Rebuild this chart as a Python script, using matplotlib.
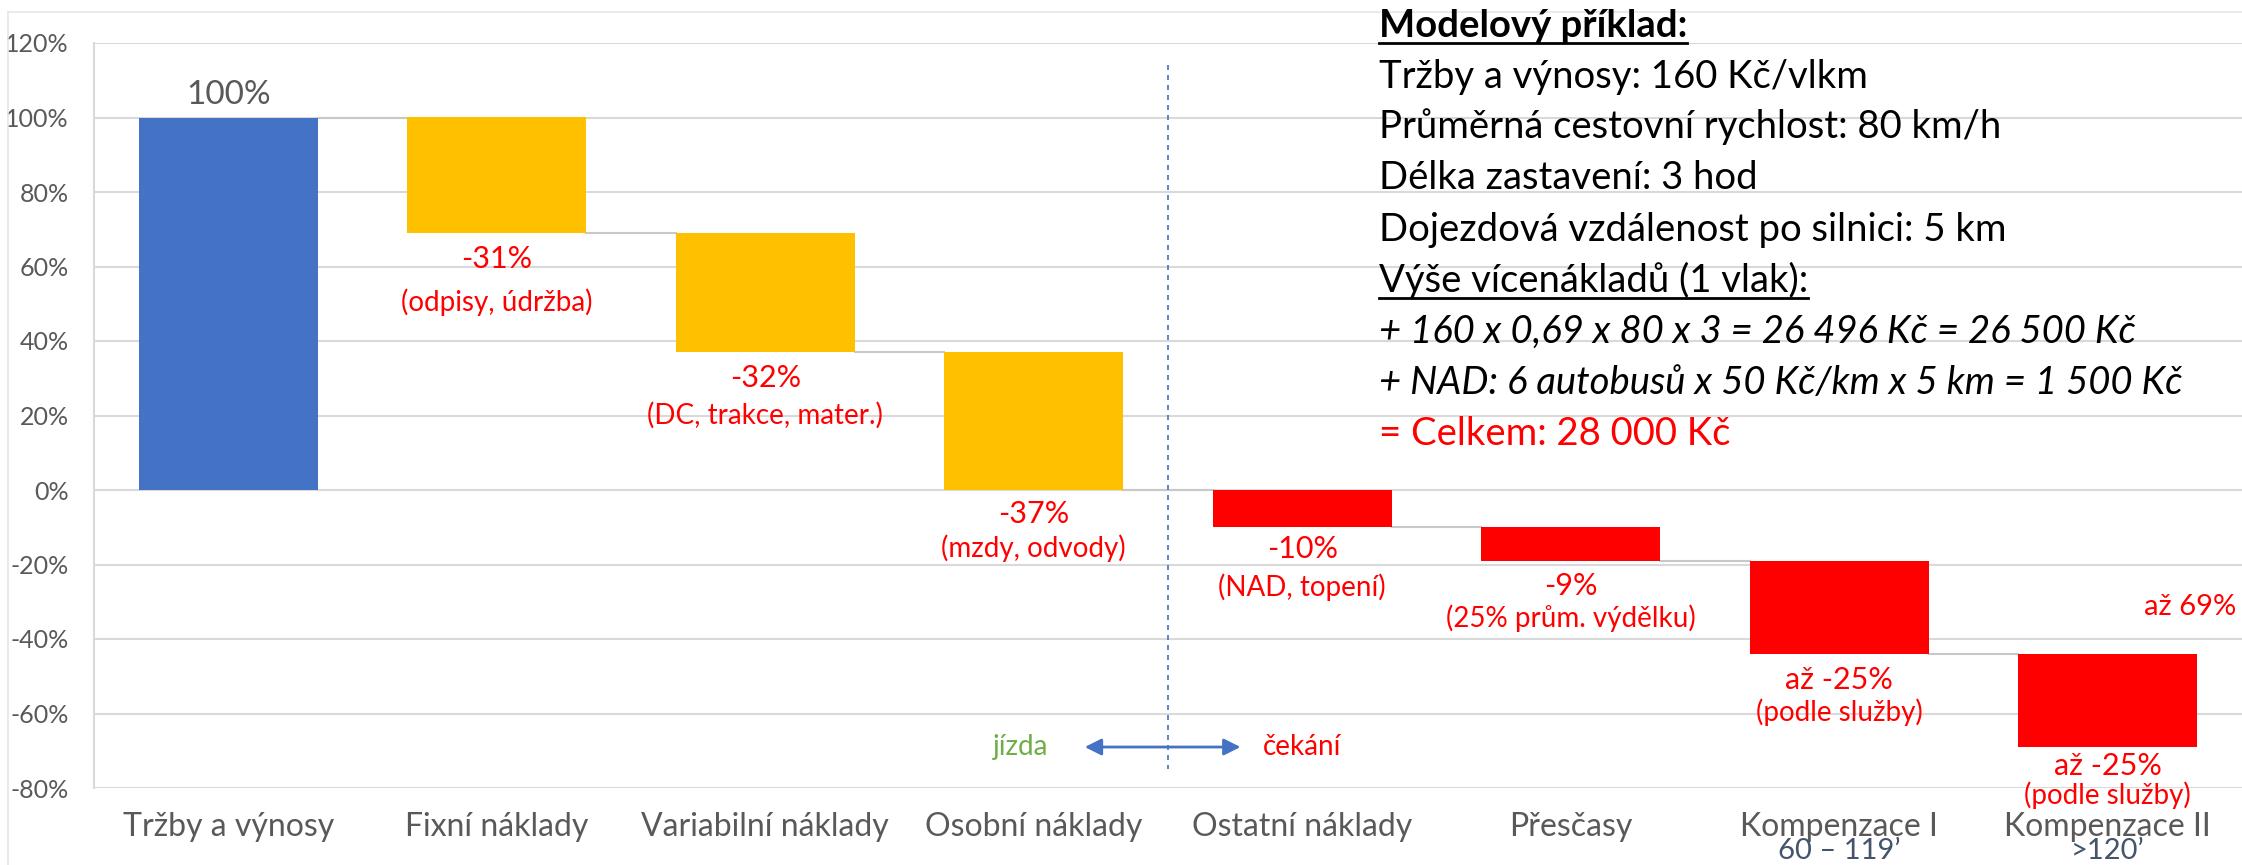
import numpy as np
import matplotlib.pyplot as plt
from matplotlib.lines import Line2D

plt.rcParams['font.family'] = ['Lato', 'DejaVu Sans']

# data
categories = ['Tržby a výnosy', 'Fixní náklady', 'Variabilní náklady', 'Osobní náklady',
              'Ostatní náklady', 'Přesčasy', 'Kompenzace I', 'Kompenzace II']
sub_labels = ['', '', '', '', '', '', '60 – 119’', '>120’']
changes = [100, -31, -32, -37, -10, -9, -25, -25]
value_labels = ['100%', '-31%', '-32%', '-37%', '-10%', '-9%', 'až -25%', 'až -25%']
notes = ['', '(odpisy, údržba)', '(DC, trakce, mater.)', '(mzdy, odvody)', '(NAD, topení)',
         '(25% prům. výdělku)', '(podle služby)', '(podle služby)']
total_label = 'až 69%'
yticks = np.arange(-80, 121, 20)

box_lines = ['Modelový příklad:',
             'Tržby a výnosy: 160 Kč/vlkm',
             'Průměrná cestovní rychlost: 80 km/h',
             'Délka zastavení: 3 hod',
             'Dojezdová vzdálenost po silnici: 5 km',
             'Výše vícenákladů (1 vlak):',
             '+ 160 x 0,69 x 80 x 3 = 26 496 Kč = 26 500 Kč',
             '+ NAD: 6 autobusů x 50 Kč/km x 5 km = 1 500 Kč',
             '= Celkem: 28 000 Kč']

# styles
BLUE, YELLOW, RED, GREEN = '#4472C4', '#FFC000', '#FF0000', '#70AD47'
GREY_TXT, GRID, SLATE = '#595959', '#D9D9D9', '#44546A'
bar_colors = [BLUE] + [YELLOW] * 3 + [RED] * 4
value_off = [22, -26, -26, -24, -22, -25, -26, -19]   # px from bar end
note_off = [0, -69, -63, -58, -60, -57, -58, -48]
box_style = [dict(weight='bold', ul=True), {}, {}, {}, {}, dict(ul=True),
             dict(style='italic'), dict(style='italic'), dict(color=RED)]

W, H = 2242, 865
fig = plt.figure(figsize=(W / 100, H / 100), dpi=100)
ax = fig.add_axes([94 / W, 77 / H, (W - 94) / W, (788 - 43) / H])

ends = np.cumsum(changes)
starts = ends - np.array(changes)
bottoms = np.minimum(starts, ends)
heights = np.abs(changes)
x = np.arange(len(categories))
bw = 0.665

ax.bar(x, heights, bottom=bottoms, width=bw, color=bar_colors, zorder=3)

# connectors
for i in range(len(x) - 1):
    ax.plot([x[i] + bw / 2, x[i + 1] - bw / 2], [ends[i], ends[i]], color='#C8C8C8', lw=1.5, zorder=2)

# labels
ax.annotate(value_labels[0], (x[0], ends[0]), xytext=(0, value_off[0]), textcoords='offset pixels',
            ha='center', va='center', fontsize=24, color=GREY_TXT)
for i in range(1, len(x)):
    ax.annotate(value_labels[i], (x[i], ends[i]), xytext=(0, value_off[i]), textcoords='offset pixels',
                ha='center', va='center', fontsize=22, color=RED, annotation_clip=False)
    ax.annotate(notes[i], (x[i], ends[i]), xytext=(0, note_off[i]), textcoords='offset pixels',
                ha='center', va='center', fontsize=20, color=RED, annotation_clip=False)
ax.text(7.48, -31.5, total_label, ha='right', va='center', fontsize=21, color=RED)

# jízda / čekání divider
ax.plot([3.5, 3.5], [114, -75], color=BLUE, lw=1.2, ls=(0, (3, 3)), zorder=2)
ax.annotate('', xy=(3.19, -69), xytext=(3.77, -69),
            arrowprops=dict(arrowstyle='<|-|>', color=BLUE, lw=2, mutation_scale=25, shrinkA=0, shrinkB=0))
ax.text(2.95, -69, 'jízda', ha='center', va='center', fontsize=20, color=GREEN)
ax.text(4.0, -69, 'čekání', ha='center', va='center', fontsize=20, color=RED)

ax.set_xlim(-0.5, 7.5)
ax.set_ylim(-80, 120)
ax.set_yticks(yticks)
ax.set_yticklabels([f'{v}%' for v in yticks], fontsize=18, color=GREY_TXT)
ax.set_xticks(x)
ax.set_xticklabels(categories, fontsize=23, color=GREY_TXT)
ax.tick_params(length=0, axis='y', pad=18)
ax.tick_params(length=0, axis='x', pad=17)
ax.yaxis.grid(True, color=GRID, lw=1.5, zorder=0)
ax.set_axisbelow(True)
for s in ['top', 'right', 'bottom']:
    ax.spines[s].set_visible(False)
ax.spines['left'].set_color(GRID)
ax.spines['left'].set_linewidth(1.5)
for i, s in enumerate(sub_labels):
    if s:
        ax.annotate(s, (x[i], -80), xytext=(0, -63), textcoords='offset pixels',
                    ha='center', va='center', fontsize=21, color=SLATE, annotation_clip=False)

# chart border
fig.add_artist(Line2D([8 / W, 8 / W], [0, 1 - 12 / H], transform=fig.transFigure, color='#E6E6E6', lw=1.2))
fig.add_artist(Line2D([8 / W, 1], [1 - 12 / H, 1 - 12 / H], transform=fig.transFigure, color='#E6E6E6', lw=1.2))

# model example text box
x0 = 1379
baselines = [37, 88, 138, 189, 241, 292, 343, 394, 445]
texts = []
for line, yb, st in zip(box_lines, baselines, box_style):
    t = fig.text(x0 / W, 1 - yb / H, line, ha='left', va='baseline', fontsize=27.5,
                 color=st.get('color', 'black'), weight=st.get('weight', 'normal'),
                 style=st.get('style', 'normal'))
    texts.append((t, yb, st.get('ul', False)))

fig.canvas.draw()
r = fig.canvas.get_renderer()
for t, yb, ul in texts:
    if ul:
        bb = t.get_window_extent(r)
        yl = 1 - (yb + 6) / H
        fig.add_artist(Line2D([bb.x0 / W, bb.x1 / W], [yl, yl], transform=fig.transFigure, color='black', lw=2))

fig.savefig('out.png', dpi=100)
